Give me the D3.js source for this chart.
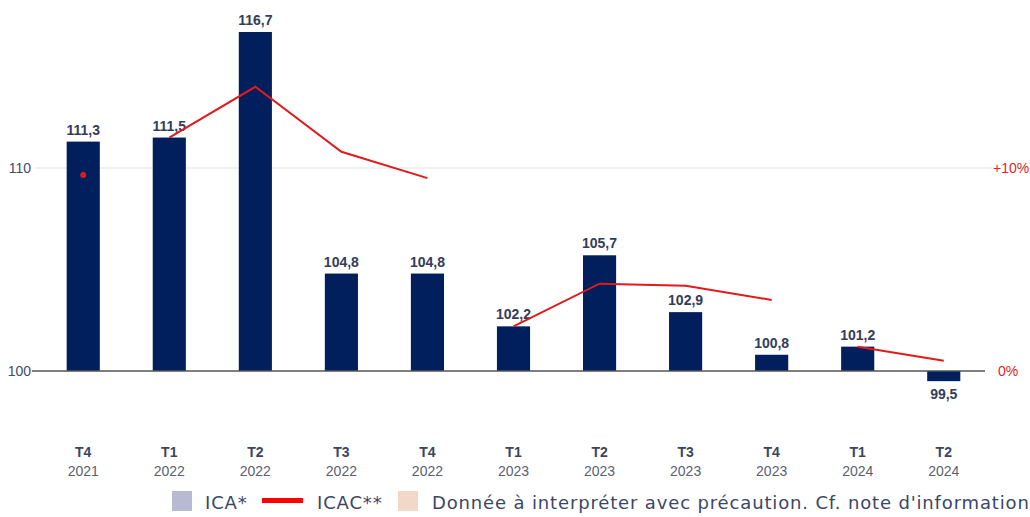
<!DOCTYPE html>
<html>
<head>
<meta charset="utf-8">
<script src="https://cdn.jsdelivr.net/npm/d3@7"></script>
<style>
  body { margin: 0; background: #fff; }
  svg { display: block; font-family: "Liberation Sans", Arial, sans-serif; }
</style>
</head>
<body>
<svg id="chart"></svg>
<script>
// quarters + years on the x axis
var quarters = ["T4", "T1", "T2", "T3", "T4", "T1", "T2", "T3", "T4", "T1", "T2"];
var years = ["2021", "2022", "2022", "2022", "2022", "2023", "2023", "2023", "2023", "2024", "2024"];
// ICA (base 100) -- bars
var ica = [111.3, 111.5, 116.7, 104.8, 104.8, 102.2, 105.7, 102.9, 100.8, 101.2, 99.5];
// ICAC (%) -- red line, one segment per year
var icac = [9.65, 11.5, 14.0, 10.8, 9.5, 2.2, 4.3, 4.2, 3.5, 1.2, 0.5];
var leftTicks = [100, 110];
var rightTicks = [0, 10];

var width = 1030, height = 517;
var margin = {top: 0, right: 43, bottom: 0, left: 40};

var svg = d3.select("#chart")
    .attr("width", width)
    .attr("height", height);

var keys = quarters.map(function(q, i) { return q + " " + years[i]; });

var x = d3.scaleBand()
  .domain(keys)
  .range([margin.left, width - margin.right])
  .paddingInner(0.615)
  .paddingOuter(0.31);

var y = d3.scaleLinear()
  .domain([100, 110])
  .range([371, 168]);

// right axis shares the same pixel scale, 0% on the 100 line
var y2 = d3.scaleLinear()
  .domain([0, 10])
  .range([371, 168]);

//-------------grid + axes-----------------
svg.append("line")
  .attr("x1", 35).attr("x2", 992)
  .attr("y1", y(110)).attr("y2", y(110))
  .style("stroke", "#e3e3e3")
  .style("stroke-width", 1);

svg.selectAll(".ltick")
  .data(leftTicks)
  .enter()
  .append("text")
  .attr("class", "ltick")
  .attr("x", 31)
  .attr("y", function(d) { return y(d); })
  .attr("dy", "0.35em")
  .style("text-anchor", "end")
  .style("font-size", "14px")
  .style("fill", "#3f4a6a")
  .text(function(d) { return d; });

svg.selectAll(".rtick")
  .data(rightTicks)
  .enter()
  .append("text")
  .attr("class", "rtick")
  .attr("x", function(d) { return d === 0 ? 998 : 993; })
  .attr("y", function(d) { return y2(d); })
  .attr("dy", "0.35em")
  .style("font-size", "14px")
  .style("fill", "#e0241f")
  .text(function(d) { return d === 0 ? "0%" : "+" + d + "%"; });

//-------------bars-----------------
svg.selectAll(".bar")
  .data(ica)
  .enter()
  .append("rect")
  .attr("class", "bar")
  .attr("x", function(d, i) { return x(keys[i]); })
  .attr("width", x.bandwidth())
  .attr("y", function(d) { return y(Math.max(d, 100)); })
  .attr("height", function(d) { return Math.abs(y(d) - y(100)); })
  .style("fill", "#001f5c");

// baseline at 100 (drawn after bars)
svg.append("line")
  .attr("x1", 32).attr("x2", 985)
  .attr("y1", y(100)).attr("y2", y(100))
  .style("stroke", "#555")
  .style("stroke-width", 1.5);

svg.selectAll(".val")
  .data(ica)
  .enter()
  .append("text")
  .attr("class", "val")
  .attr("x", function(d, i) { return x(keys[i]) + x.bandwidth() / 2; })
  .attr("y", function(d) { return d >= 100 ? y(d) - 7 : y(d) + 18; })
  .style("text-anchor", "middle")
  .style("font-size", "14px")
  .style("font-weight", "bold")
  .style("fill", "#333c58")
  .text(function(d) { return d3.format(".1f")(d).replace(".", ","); });

//-------------ICAC line, split by year-----------------
var pts = icac.map(function(v, i) {
  return {x: x(keys[i]) + x.bandwidth() / 2, y: y2(v), year: years[i]};
});
var groups = d3.groups(pts, function(d) { return d.year; });

var line = d3.line()
  .x(function(d) { return d.x; })
  .y(function(d) { return d.y; });

groups.forEach(function(g) {
  if (g[1].length > 1) {
    svg.append("path")
      .datum(g[1])
      .attr("d", line)
      .style("fill", "none")
      .style("stroke", "#e3191c")
      .style("stroke-width", 2);
  } else {
    svg.append("circle")
      .attr("cx", g[1][0].x)
      .attr("cy", g[1][0].y)
      .attr("r", 3)
      .style("fill", "#e3191c");
  }
});

//-------------x labels-----------------
var xl = svg.selectAll(".xl")
  .data(keys)
  .enter()
  .append("g")
  .attr("class", "xl")
  .attr("transform", function(d) { return "translate(" + (x(d) + x.bandwidth() / 2) + ",0)"; });

xl.append("text")
  .attr("y", 457)
  .style("text-anchor", "middle")
  .style("font-size", "14px")
  .style("font-weight", "bold")
  .style("fill", "#3a4563")
  .text(function(d, i) { return quarters[i]; });

xl.append("text")
  .attr("y", 476)
  .style("text-anchor", "middle")
  .style("font-size", "14px")
  .style("fill", "#5a5f70")
  .text(function(d, i) { return years[i]; });

//-------------legend-----------------
var lg = svg.append("g")
  .style("font-family", "'DejaVu Sans', sans-serif")
  .style("font-size", "18px")
  .style("letter-spacing", "0.85px")
  .style("fill", "#3b4766");

lg.append("rect").attr("x", 172).attr("y", 491).attr("width", 20).attr("height", 20).style("fill", "#b8bad4");
lg.append("text").attr("x", 205).attr("y", 509).text("ICA*");
lg.append("rect").attr("x", 262).attr("y", 498).attr("width", 41).attr("height", 5).style("fill", "#ff0000");
lg.append("text").attr("x", 317).attr("y", 509).text("ICAC**");
lg.append("rect").attr("x", 398).attr("y", 491).attr("width", 20).attr("height", 20).style("fill", "#f1d8c8");
lg.append("text").attr("x", 432).attr("y", 509).text("Donnée à interpréter avec précaution. Cf. note d'information");
</script>
</body>
</html>
